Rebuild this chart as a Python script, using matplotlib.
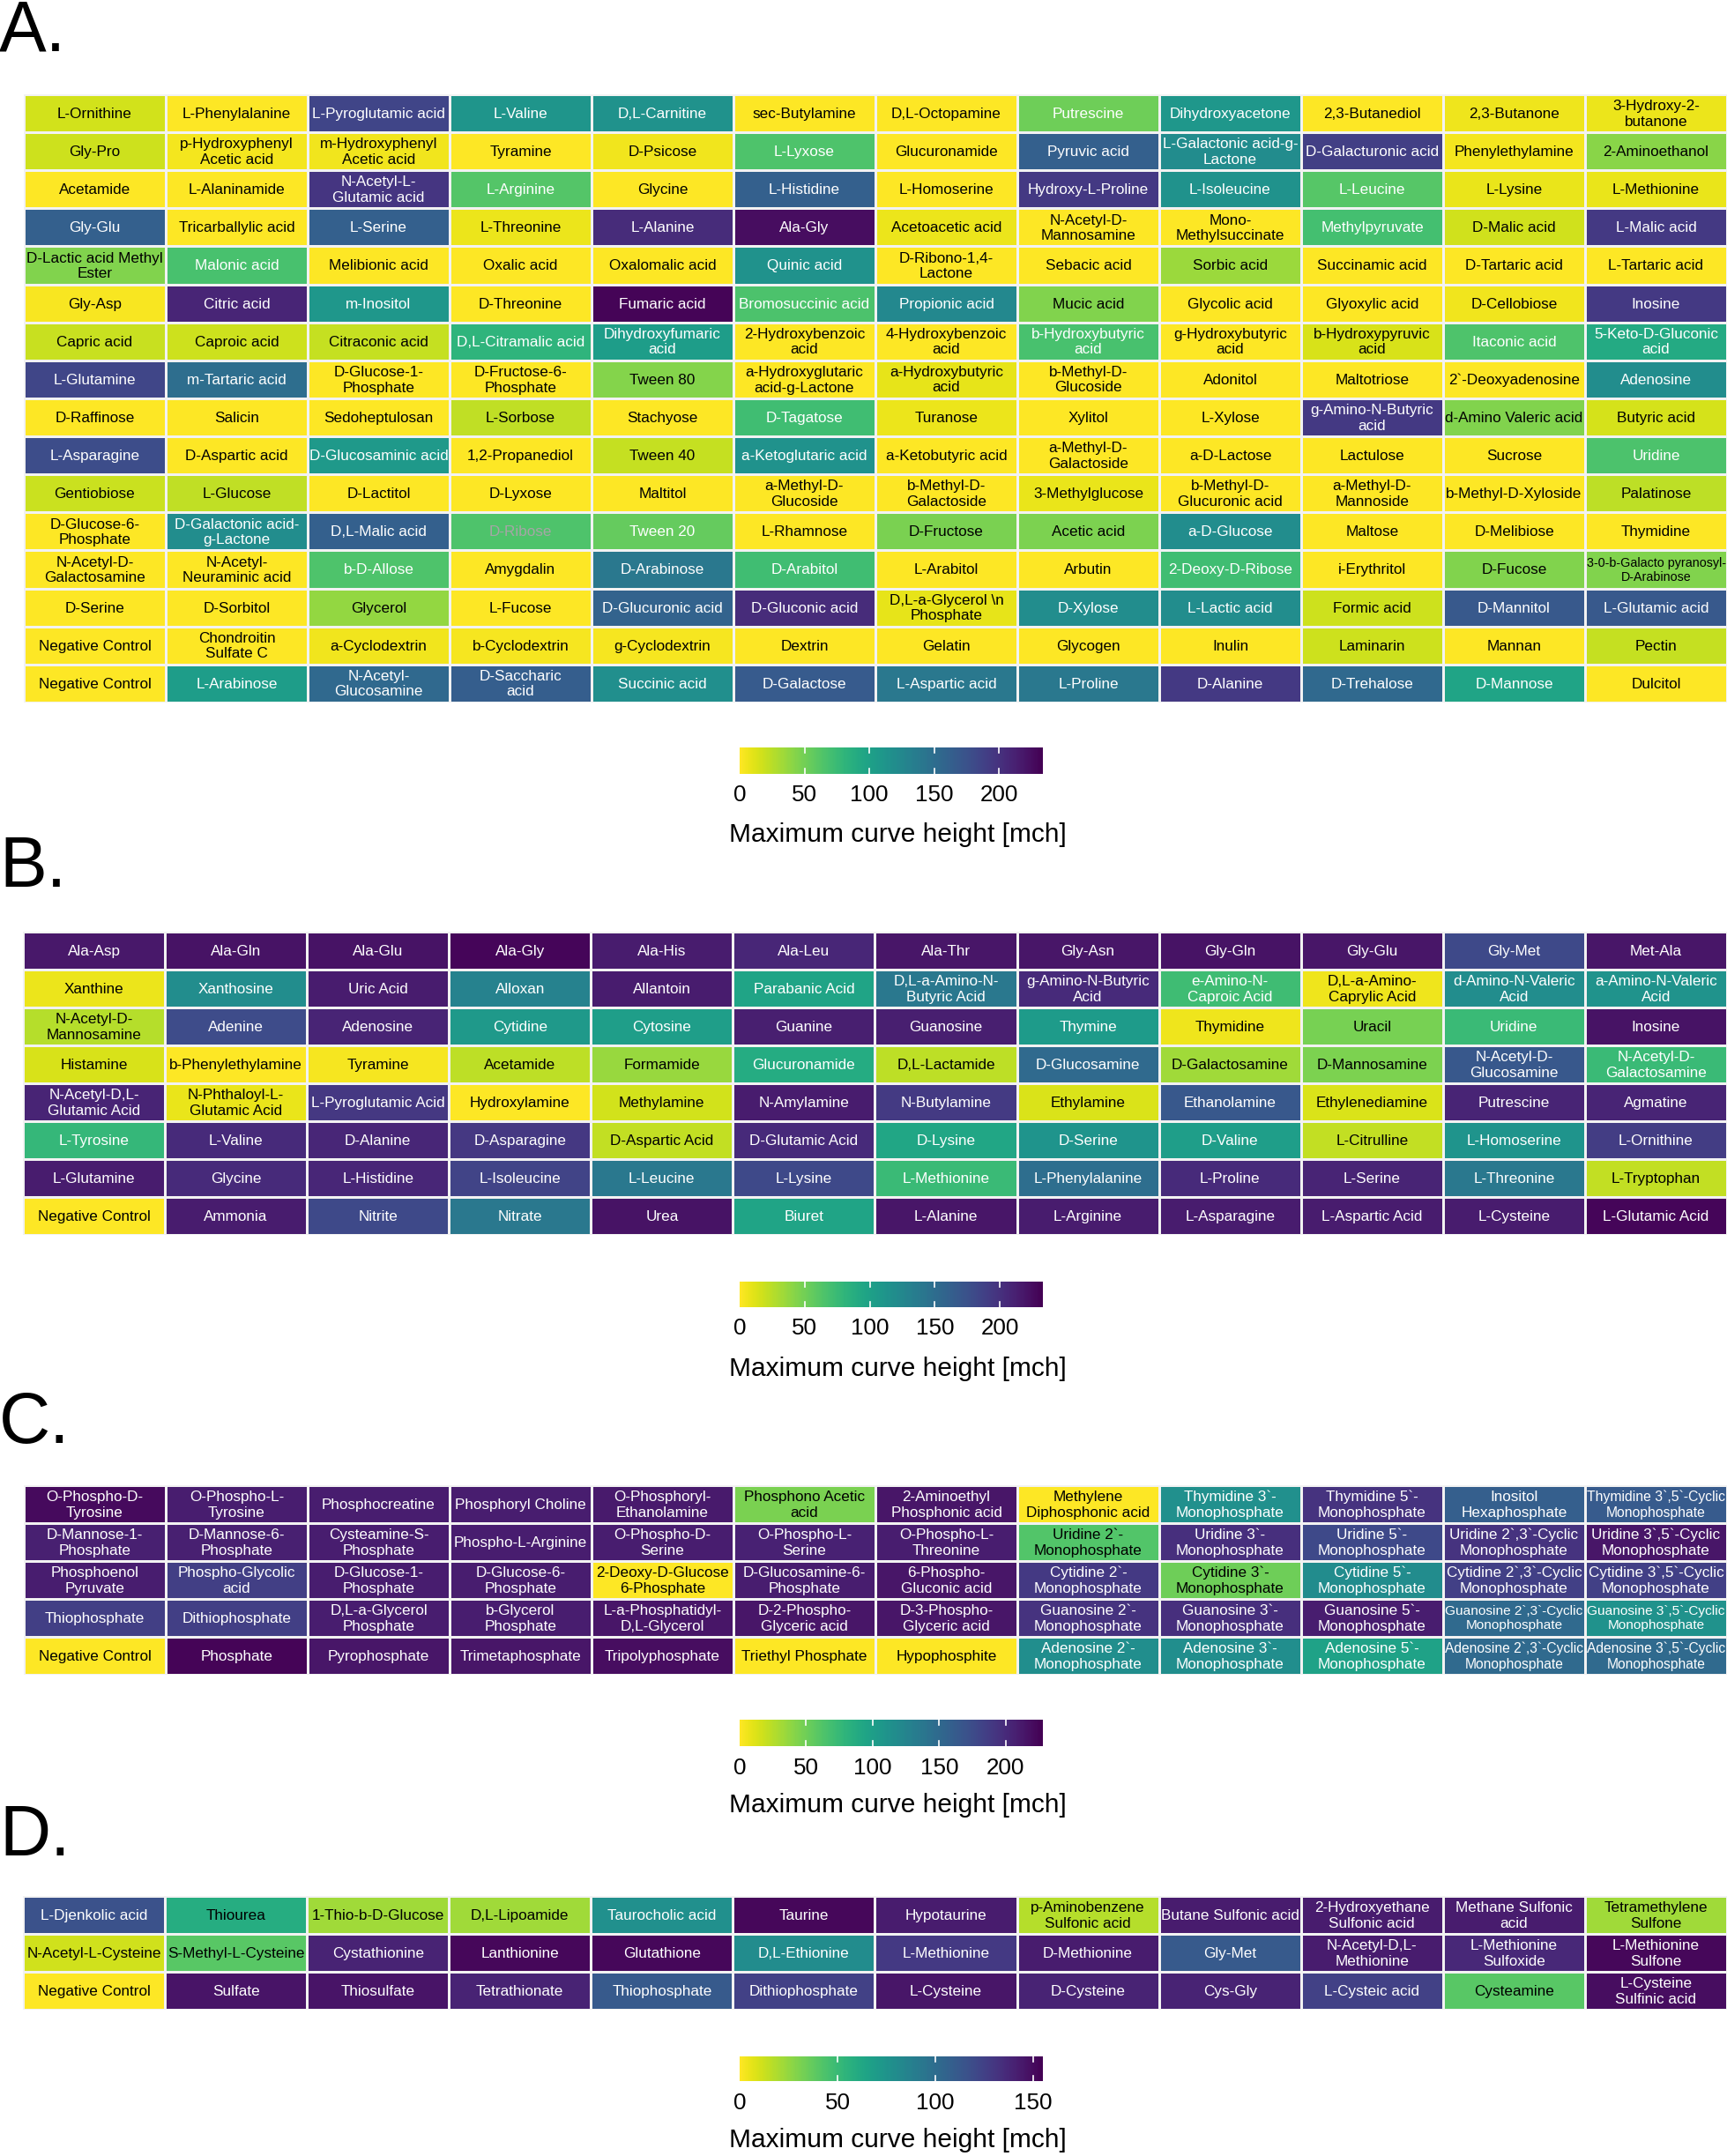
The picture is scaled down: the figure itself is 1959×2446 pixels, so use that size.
import numpy as np
import matplotlib
matplotlib.use("Agg")
import matplotlib.pyplot as plt

plt.rcParams['font.family'] = ['Liberation Sans', 'DejaVu Sans']

W, H = 1959, 2446

# ---- panel A: carbon sources ----
labels_a = [
    ["L-Ornithine", "L-Phenylalanine", "L-Pyroglutamic acid", "L-Valine", "D,L-Carnitine", "sec-Butylamine",
     "D,L-Octopamine", "Putrescine", "Dihydroxyacetone", "2,3-Butanediol", "2,3-Butanone", "3-Hydroxy-2-\nbutanone"],
    ["Gly-Pro", "p-Hydroxyphenyl\nAcetic acid", "m-Hydroxyphenyl\nAcetic acid", "Tyramine", "D-Psicose", "L-Lyxose",
     "Glucuronamide", "Pyruvic acid", "L-Galactonic acid-g-\nLactone", "D-Galacturonic acid", "Phenylethylamine", "2-Aminoethanol"],
    ["Acetamide", "L-Alaninamide", "N-Acetyl-L-\nGlutamic acid", "L-Arginine", "Glycine", "L-Histidine",
     "L-Homoserine", "Hydroxy-L-Proline", "L-Isoleucine", "L-Leucine", "L-Lysine", "L-Methionine"],
    ["Gly-Glu", "Tricarballylic acid", "L-Serine", "L-Threonine", "L-Alanine", "Ala-Gly",
     "Acetoacetic acid", "N-Acetyl-D-\nMannosamine", "Mono-\nMethylsuccinate", "Methylpyruvate", "D-Malic acid", "L-Malic acid"],
    ["D-Lactic acid Methyl\nEster", "Malonic acid", "Melibionic acid", "Oxalic acid", "Oxalomalic acid", "Quinic acid",
     "D-Ribono-1,4-\nLactone", "Sebacic acid", "Sorbic acid", "Succinamic acid", "D-Tartaric acid", "L-Tartaric acid"],
    ["Gly-Asp", "Citric acid", "m-Inositol", "D-Threonine", "Fumaric acid", "Bromosuccinic acid",
     "Propionic acid", "Mucic acid", "Glycolic acid", "Glyoxylic acid", "D-Cellobiose", "Inosine"],
    ["Capric acid", "Caproic acid", "Citraconic acid", "D,L-Citramalic acid", "Dihydroxyfumaric\nacid", "2-Hydroxybenzoic\nacid",
     "4-Hydroxybenzoic\nacid", "b-Hydroxybutyric\nacid", "g-Hydroxybutyric\nacid", "b-Hydroxypyruvic\nacid", "Itaconic acid", "5-Keto-D-Gluconic\nacid"],
    ["L-Glutamine", "m-Tartaric acid", "D-Glucose-1-\nPhosphate", "D-Fructose-6-\nPhosphate", "Tween 80", "a-Hydroxyglutaric\nacid-g-Lactone",
     "a-Hydroxybutyric\nacid", "b-Methyl-D-\nGlucoside", "Adonitol", "Maltotriose", "2`-Deoxyadenosine", "Adenosine"],
    ["D-Raffinose", "Salicin", "Sedoheptulosan", "L-Sorbose", "Stachyose", "D-Tagatose",
     "Turanose", "Xylitol", "L-Xylose", "g-Amino-N-Butyric\nacid", "d-Amino Valeric acid", "Butyric acid"],
    ["L-Asparagine", "D-Aspartic acid", "D-Glucosaminic acid", "1,2-Propanediol", "Tween 40", "a-Ketoglutaric acid",
     "a-Ketobutyric acid", "a-Methyl-D-\nGalactoside", "a-D-Lactose", "Lactulose", "Sucrose", "Uridine"],
    ["Gentiobiose", "L-Glucose", "D-Lactitol", "D-Lyxose", "Maltitol", "a-Methyl-D-\nGlucoside",
     "b-Methyl-D-\nGalactoside", "3-Methylglucose", "b-Methyl-D-\nGlucuronic acid", "a-Methyl-D-\nMannoside", "b-Methyl-D-Xyloside", "Palatinose"],
    ["D-Glucose-6-\nPhosphate", "D-Galactonic acid-\ng-Lactone", "D,L-Malic acid", "D-Ribose", "Tween 20", "L-Rhamnose",
     "D-Fructose", "Acetic acid", "a-D-Glucose", "Maltose", "D-Melibiose", "Thymidine"],
    ["N-Acetyl-D-\nGalactosamine", "N-Acetyl-\nNeuraminic acid", "b-D-Allose", "Amygdalin", "D-Arabinose", "D-Arabitol",
     "L-Arabitol", "Arbutin", "2-Deoxy-D-Ribose", "i-Erythritol", "D-Fucose", "3-0-b-Galacto pyranosyl-\nD-Arabinose"],
    ["D-Serine", "D-Sorbitol", "Glycerol", "L-Fucose", "D-Glucuronic acid", "D-Gluconic acid",
     "D,L-a-Glycerol \\n\nPhosphate", "D-Xylose", "L-Lactic acid", "Formic acid", "D-Mannitol", "L-Glutamic acid"],
    ["Negative Control", "Chondroitin\nSulfate C", "a-Cyclodextrin", "b-Cyclodextrin", "g-Cyclodextrin", "Dextrin",
     "Gelatin", "Glycogen", "Inulin", "Laminarin", "Mannan", "Pectin"],
    ["Negative Control", "L-Arabinose", "N-Acetyl-\nGlucosamine", "D-Saccharic\nacid", "Succinic acid", "D-Galactose",
     "L-Aspartic acid", "L-Proline", "D-Alanine", "D-Trehalose", "D-Mannose", "Dulcitol"],
]
values_a = [
    [16, 0, 186, 112, 115, 0, 0, 52, 110, 0, 6, 7],
    [18, 4, 5, 0, 5, 65, 0, 163, 121, 191, 4, 42],
    [0, 0, 198, 63, 0, 163, 0, 195, 115, 62, 8, 8],
    [163, 0, 163, 7, 205, 226, 7, 0, 0, 70, 17, 195],
    [44, 68, 0, 0, 0, 115, 0, 0, 35, 0, 0, 0],
    [2, 210, 110, 0, 232, 66, 125, 44, 0, 0, 5, 195],
    [20, 18, 21, 82, 105, 0, 0, 68, 0, 14, 65, 92],
    [185, 150, 0, 0, 43, 0, 9, 0, 0, 0, 0, 120],
    [0, 0, 0, 22, 0, 72, 7, 0, 0, 195, 44, 15],
    [180, 0, 108, 0, 21, 115, 0, 0, 0, 0, 0, 66],
    [19, 22, 0, 0, 0, 0, 0, 8, 0, 0, 0, 23],
    [0, 120, 163, 65, 55, 0, 47, 46, 120, 0, 0, 0],
    [0, 0, 65, 0, 140, 72, 0, 0, 72, 0, 44, 44],
    [0, 0, 38, 0, 160, 205, 9, 120, 120, 18, 170, 170],
    [0, 0, 5, 3, 3, 0, 0, 0, 0, 18, 0, 21],
    [0, 105, 155, 165, 118, 168, 140, 140, 195, 155, 97, 0],
]

# ---- panel B: nitrogen sources ----
labels_b = [
    ["Ala-Asp", "Ala-Gln", "Ala-Glu", "Ala-Gly", "Ala-His", "Ala-Leu", "Ala-Thr", "Gly-Asn", "Gly-Gln", "Gly-Glu", "Gly-Met", "Met-Ala"],
    ["Xanthine", "Xanthosine", "Uric Acid", "Alloxan", "Allantoin", "Parabanic Acid", "D,L-a-Amino-N-\nButyric Acid",
     "g-Amino-N-Butyric\nAcid", "e-Amino-N-\nCaproic Acid", "D,L-a-Amino-\nCaprylic Acid", "d-Amino-N-Valeric\nAcid", "a-Amino-N-Valeric\nAcid"],
    ["N-Acetyl-D-\nMannosamine", "Adenine", "Adenosine", "Cytidine", "Cytosine", "Guanine", "Guanosine", "Thymine",
     "Thymidine", "Uracil", "Uridine", "Inosine"],
    ["Histamine", "b-Phenylethylamine", "Tyramine", "Acetamide", "Formamide", "Glucuronamide", "D,L-Lactamide",
     "D-Glucosamine", "D-Galactosamine", "D-Mannosamine", "N-Acetyl-D-\nGlucosamine", "N-Acetyl-D-\nGalactosamine"],
    ["N-Acetyl-D,L-\nGlutamic Acid", "N-Phthaloyl-L-\nGlutamic Acid", "L-Pyroglutamic Acid", "Hydroxylamine", "Methylamine",
     "N-Amylamine", "N-Butylamine", "Ethylamine", "Ethanolamine", "Ethylenediamine", "Putrescine", "Agmatine"],
    ["L-Tyrosine", "L-Valine", "D-Alanine", "D-Asparagine", "D-Aspartic Acid", "D-Glutamic Acid", "D-Lysine", "D-Serine",
     "D-Valine", "L-Citrulline", "L-Homoserine", "L-Ornithine"],
    ["L-Glutamine", "Glycine", "L-Histidine", "L-Isoleucine", "L-Leucine", "L-Lysine", "L-Methionine", "L-Phenylalanine",
     "L-Proline", "L-Serine", "L-Threonine", "L-Tryptophan"],
    ["Negative Control", "Ammonia", "Nitrite", "Nitrate", "Urea", "Biuret", "L-Alanine", "L-Arginine", "L-Asparagine",
     "L-Aspartic Acid", "L-Cysteine", "L-Glutamic Acid"],
]
values_b = [
    [218, 222, 222, 230, 215, 208, 220, 220, 222, 220, 182, 220],
    [7, 120, 215, 130, 215, 97, 140, 205, 72, 6, 120, 113],
    [26, 180, 210, 108, 103, 213, 213, 106, 6, 48, 75, 222],
    [14, 0, 3, 23, 36, 90, 23, 153, 33, 46, 170, 75],
    [210, 8, 195, 0, 16, 215, 193, 13, 170, 13, 210, 210],
    [78, 205, 208, 195, 21, 205, 95, 112, 103, 21, 112, 192],
    [215, 205, 208, 186, 140, 182, 75, 150, 205, 210, 140, 21],
    [0, 215, 182, 140, 222, 97, 220, 215, 215, 215, 215, 230],
]

# ---- panel C: phosphorus sources ----
labels_c = [
    ["O-Phospho-D-\nTyrosine", "O-Phospho-L-\nTyrosine", "Phosphocreatine", "Phosphoryl Choline", "O-Phosphoryl-\nEthanolamine",
     "Phosphono Acetic\nacid", "2-Aminoethyl\nPhosphonic acid", "Methylene\nDiphosphonic acid", "Thymidine 3`-\nMonophosphate",
     "Thymidine 5`-\nMonophosphate", "Inositol\nHexaphosphate", "Thymidine 3`,5`-Cyclic\nMonophosphate"],
    ["D-Mannose-1-\nPhosphate", "D-Mannose-6-\nPhosphate", "Cysteamine-S-\nPhosphate", "Phospho-L-Arginine", "O-Phospho-D-\nSerine",
     "O-Phospho-L-\nSerine", "O-Phospho-L-\nThreonine", "Uridine 2`-\nMonophosphate", "Uridine 3`-\nMonophosphate",
     "Uridine 5`-\nMonophosphate", "Uridine 2`,3`-Cyclic\nMonophosphate", "Uridine 3`,5`-Cyclic\nMonophosphate"],
    ["Phosphoenol\nPyruvate", "Phospho-Glycolic\nacid", "D-Glucose-1-\nPhosphate", "D-Glucose-6-\nPhosphate", "2-Deoxy-D-Glucose\n6-Phosphate",
     "D-Glucosamine-6-\nPhosphate", "6-Phospho-\nGluconic acid", "Cytidine 2`-\nMonophosphate", "Cytidine 3`-\nMonophosphate",
     "Cytidine 5`-\nMonophosphate", "Cytidine 2`,3`-Cyclic\nMonophosphate", "Cytidine 3`,5`-Cyclic\nMonophosphate"],
    ["Thiophosphate", "Dithiophosphate", "D,L-a-Glycerol\nPhosphate", "b-Glycerol\nPhosphate", "L-a-Phosphatidyl-\nD,L-Glycerol",
     "D-2-Phospho-\nGlyceric acid", "D-3-Phospho-\nGlyceric acid", "Guanosine 2`-\nMonophosphate", "Guanosine 3`-\nMonophosphate",
     "Guanosine 5`-\nMonophosphate", "Guanosine 2`,3`-Cyclic\nMonophosphate", "Guanosine 3`,5`-Cyclic\nMonophosphate"],
    ["Negative Control", "Phosphate", "Pyrophosphate", "Trimetaphosphate", "Tripolyphosphate", "Triethyl Phosphate",
     "Hypophosphite", "Adenosine 2`-\nMonophosphate", "Adenosine 3`-\nMonophosphate", "Adenosine 5`-\nMonophosphate",
     "Adenosine 2`,3`-Cyclic\nMonophosphate", "Adenosine 3`,5`-Cyclic\nMonophosphate"],
]
values_c = [
    [222, 210, 210, 210, 212, 46, 215, 0, 114, 195, 160, 163],
    [208, 208, 210, 210, 210, 207, 210, 62, 197, 178, 195, 215],
    [210, 186, 210, 210, 0, 210, 215, 190, 50, 118, 185, 185],
    [186, 186, 210, 210, 215, 215, 215, 195, 197, 210, 150, 112],
    [0, 226, 215, 215, 220, 0, 0, 116, 116, 97, 150, 150],
]

# ---- panel D: sulfur sources ----
labels_d = [
    ["L-Djenkolic acid", "Thiourea", "1-Thio-b-D-Glucose", "D,L-Lipoamide", "Taurocholic acid", "Taurine", "Hypotaurine",
     "p-Aminobenzene\nSulfonic acid", "Butane Sulfonic acid", "2-Hydroxyethane\nSulfonic acid", "Methane Sulfonic\nacid",
     "Tetramethylene\nSulfone"],
    ["N-Acetyl-L-Cysteine", "S-Methyl-L-Cysteine", "Cystathionine", "Lanthionine", "Glutathione", "D,L-Ethionine",
     "L-Methionine", "D-Methionine", "Gly-Met", "N-Acetyl-D,L-\nMethionine", "L-Methionine\nSulfoxide", "L-Methionine\nSulfone"],
    ["Negative Control", "Sulfate", "Thiosulfate", "Tetrathionate", "Thiophosphate", "Dithiophosphate", "L-Cysteine",
     "D-Cysteine", "Cys-Gly", "L-Cysteic acid", "Cysteamine", "L-Cysteine\nSulfinic acid"],
]
values_d = [
    [116, 59, 22, 22, 78, 152, 143, 17, 143, 143, 143, 22],
    [11, 40, 140, 152, 152, 80, 129, 143, 112, 143, 138, 152],
    [0, 147, 147, 140, 112, 125, 146, 140, 140, 125, 40, 150],
]

# colour scale maxima and tick values of each legend
vmax_list = [234, 233, 228, 155]
ticks_list = [[0, 50, 100, 150, 200], [0, 50, 100, 150, 200], [0, 50, 100, 150, 200], [0, 50, 100, 150]]

# text colour exceptions
label_colors = {"D-Ribose": "#a6a6a6"}


def px_axes(fig, left, top, right, bottom):
    return fig.add_axes([left / W, 1 - bottom / H, (right - left) / W, (bottom - top) / H])


def draw_panel(fig, renderer, labels, values, vmax, box, dark_cut):
    ax = px_axes(fig, *box)
    vals = np.array(values, dtype=float)
    nr, nc = vals.shape
    ax.pcolormesh(vals, cmap='viridis_r', vmin=0, vmax=vmax, edgecolors='#f2f2f2', linewidth=1.0)
    ax.set_xlim(0, nc)
    ax.set_ylim(nr, 0)
    ax.set_axis_off()
    cell_w = (box[2] - box[0]) / nc
    for i in range(nr):
        for j in range(nc):
            lab = labels[i][j]
            col = 'white' if vals[i, j] >= dark_cut else 'black'
            col = label_colors.get(lab, col)
            t = ax.text(j + 0.5, i + 0.52, lab, ha='center', va='center', fontsize=12.3,
                        color=col, linespacing=1.2)
            w = t.get_window_extent(renderer).width
            if w > cell_w - 3:
                t.set_fontsize(12.3 * (cell_w - 3) / w)
    return ax


def draw_colorbar(fig, vmax, ticks, bar_top, bar_bot, tick_y, title_y):
    x0, x1 = 839, 1183
    cax = px_axes(fig, x0, bar_top, x1, bar_bot)
    grad = np.linspace(0, vmax, 300)[None, :]
    cax.imshow(grad, cmap='viridis_r', vmin=0, vmax=vmax, aspect='auto', extent=[0, vmax, 0, 1])
    for t in ticks[1:]:
        cax.plot([t, t], [0, 0.2], color='white', lw=1.2)
        cax.plot([t, t], [0.8, 1], color='white', lw=1.2)
    cax.set_xlim(0, vmax)
    cax.set_ylim(0, 1)
    cax.set_axis_off()
    for t in ticks:
        x = x0 + t / vmax * (x1 - x0)
        fig.text(x / W, 1 - tick_y / H, str(t), ha='center', va='center', fontsize=18.7)
    fig.text(1018 / W, 1 - title_y / H, 'Maximum curve height [mch]', ha='center', va='center', fontsize=21.5)


fig = plt.figure(figsize=(W / 100, H / 100), dpi=100)
renderer = fig.canvas.get_renderer()

panels = [
    (labels_a, values_a, (27, 107, 1959, 797), 50),
    (labels_b, values_b, (26, 1057, 1959, 1401), 55),
    (labels_c, values_c, (27, 1685, 1959, 1900), 70),
    (labels_d, values_d, (26, 2151, 1959, 2280), 70),
]
for k, (labs, vals, box, cut) in enumerate(panels):
    draw_panel(fig, renderer, labs, vals, vmax_list[k], box, cut)

bars = [(848, 878, 902, 947), (1454, 1483, 1507, 1553), (1951, 1981, 2006, 2048), (2333, 2361, 2386, 2428)]
for k, (bt, bb, ty, tt) in enumerate(bars):
    draw_colorbar(fig, vmax_list[k], ticks_list[k], bt, bb, ty, tt)

# panel letters
for letter, base in [("A.", 57), ("B.", 1006), ("C.", 1637), ("D.", 2105)]:
    fig.text(-1 / W, 1 - base / H, letter, ha='left', va='baseline', fontsize=58)

fig.savefig("out.png", dpi=100, facecolor='white')
